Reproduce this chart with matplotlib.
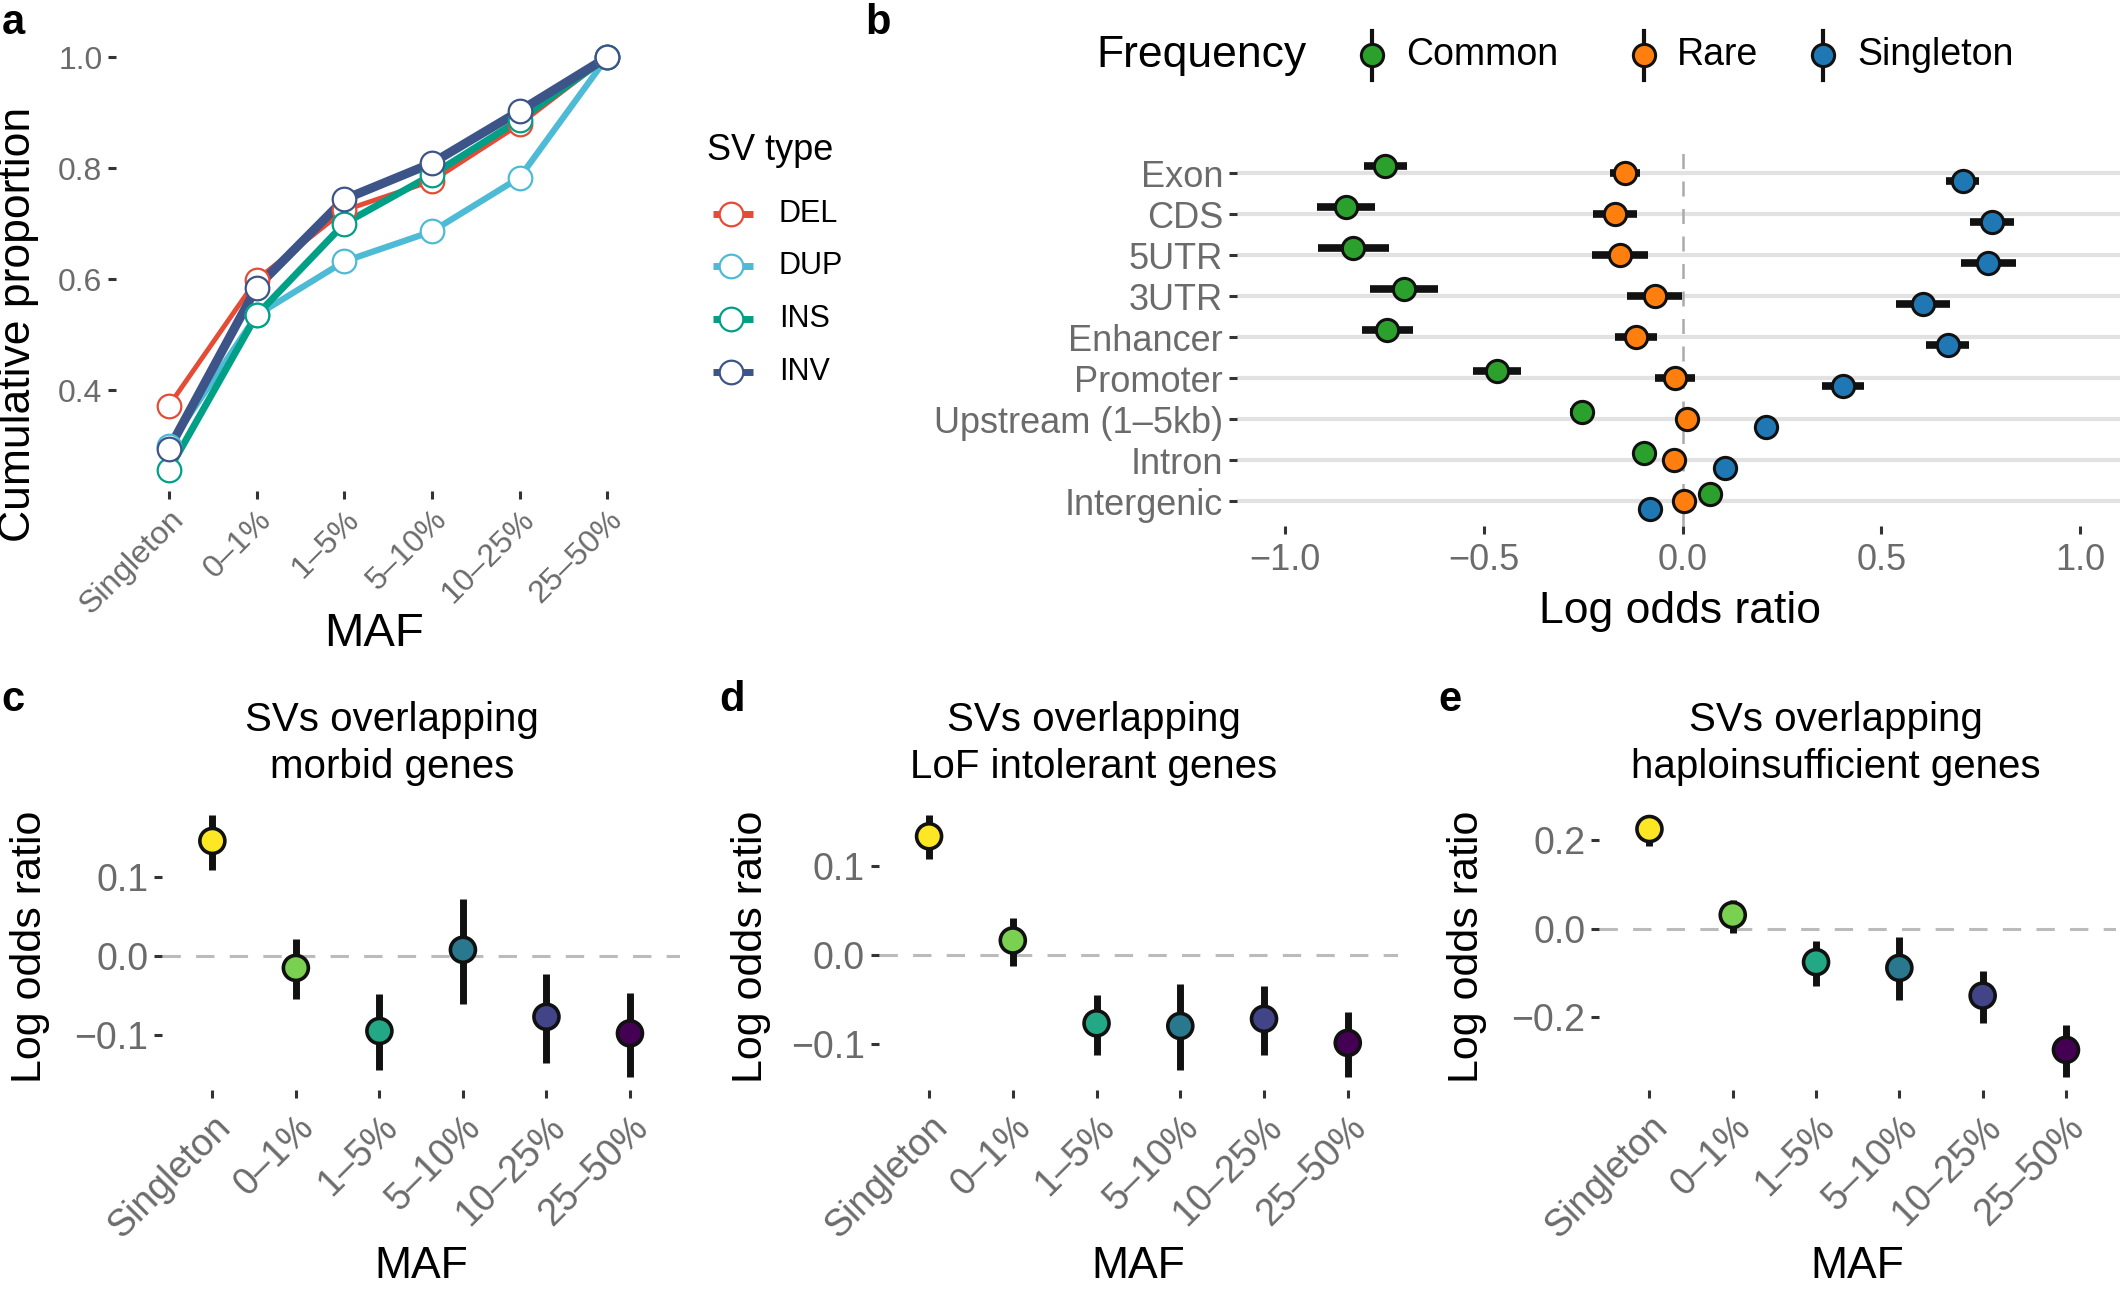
import matplotlib
matplotlib.use('Agg')
import matplotlib.pyplot as plt
from matplotlib.lines import Line2D
import numpy as np

plt.rcParams['font.family'] = ['Liberation Sans', 'DejaVu Sans']
plt.rcParams['axes.unicode_minus'] = True

# ---------------- data ----------------
maf_labels = ['Singleton', '0–1%', '1–5%', '5–10%', '10–25%', '25–50%']

sv_types = ['DEL', 'DUP', 'INS', 'INV']
sv_colors = ['#E64B35', '#4DBBD5', '#00A087', '#3C5488']
cum_del = [0.372, 0.599, 0.724, 0.777, 0.879, 1.0]
cum_dup = [0.300, 0.535, 0.632, 0.686, 0.783, 1.0]
cum_ins = [0.256, 0.535, 0.700, 0.788, 0.887, 1.0]
cum_inv = [0.294, 0.585, 0.744, 0.809, 0.903, 1.0]

regions = ['Exon', 'CDS', '5UTR', '3UTR', 'Enhancer', 'Promoter',
           'Upstream (1–5kb)', 'Intron', 'Intergenic']
freq_groups = ['Common', 'Rare', 'Singleton']
freq_colors = ['#2CA02C', '#FF7F0E', '#1F77B4']
lor_common = [-0.747, -0.846, -0.828, -0.700, -0.742, -0.467, -0.252, -0.097, 0.069]
err_common = [0.053, 0.072, 0.089, 0.085, 0.064, 0.060, 0.030, 0.015, 0.010]
lor_rare = [-0.145, -0.169, -0.158, -0.070, -0.116, -0.018, 0.010, -0.022, 0.004]
err_rare = [0.038, 0.055, 0.070, 0.069, 0.053, 0.050, 0.020, 0.015, 0.010]
lor_single = [0.704, 0.778, 0.769, 0.605, 0.667, 0.404, 0.211, 0.108, -0.081]
err_single = [0.042, 0.055, 0.069, 0.068, 0.054, 0.053, 0.020, 0.015, 0.010]

maf_colors = ['#FDE725', '#7AD151', '#22A884', '#2A788E', '#414487', '#440154']

morbid_est = [0.146, -0.015, -0.095, 0.008, -0.077, -0.098]
morbid_lo = [0.109, -0.055, -0.144, -0.061, -0.136, -0.153]
morbid_hi = [0.179, 0.022, -0.048, 0.072, -0.023, -0.047]

lof_est = [0.133, 0.016, -0.077, -0.080, -0.072, -0.099]
lof_lo = [0.107, -0.013, -0.113, -0.129, -0.113, -0.137]
lof_hi = [0.157, 0.041, -0.045, -0.033, -0.035, -0.064]

hap_est = [0.226, 0.031, -0.076, -0.089, -0.152, -0.275]
hap_lo = [0.187, -0.011, -0.130, -0.161, -0.215, -0.336]
hap_hi = [0.258, 0.066, -0.028, -0.019, -0.095, -0.218]

# ---------------- layout helpers ----------------
W, H = 1568.0, 957.0
fig = plt.figure(figsize=(21.2, 12.94), dpi=100)
fig.patch.set_facecolor('white')

TICKC = '#333333'
LABC = '#6B6B6B'


def add_ax(l, t, r, b):
    return fig.add_axes([l / W, 1 - b / H, (r - l) / W, (b - t) / H])


def style(ax, tsize):
    for s in ax.spines.values():
        s.set_visible(False)
    ax.tick_params(length=6, width=2.2, color=TICKC, labelcolor=LABC,
                   labelsize=tsize, pad=4)
    ax.set_facecolor('none')


def expand(lo, hi, f=0.05):
    r = hi - lo
    return lo - f * r, hi + f * r


def ftext(x, y, s, **kw):
    fig.text(x / W, 1 - y / H, s, **kw)

# ---------------- panel a ----------------
axa = add_ax(86, 27, 488, 363)
style(axa, 23)
xa = np.arange(1, len(maf_labels) + 1)
series_a = [cum_del, cum_dup, cum_ins, cum_inv]
lws = [3.5, 4.5, 5.0, 6.5]
for vals, c, lw in zip(series_a, sv_colors, lws):
    axa.plot(xa, vals, color=c, lw=lw, solid_capstyle='butt', zorder=2)
for vals, c in zip(series_a, sv_colors):
    axa.plot(xa, vals, ls='none', marker='o', ms=17, mfc='white', mec=c,
             mew=1.6, zorder=3)
allv = np.concatenate(series_a)
axa.set_ylim(*expand(allv.min(), allv.max()))
axa.set_xlim(0.4, len(maf_labels) + 0.6)
axa.set_yticks([0.4, 0.6, 0.8, 1.0])
axa.set_yticklabels(['0.4', '0.6', '0.8', '1.0'])
axa.set_xticks(xa)
axa.set_xticklabels(maf_labels, rotation=45, ha='right', rotation_mode='anchor')
axa.set_xlabel('MAF', fontsize=34, color='black')
axa.xaxis.set_label_coords(0.475, -0.315)
axa.xaxis.label.set_va('center')
axa.set_ylabel('Cumulative proportion', fontsize=32, color='black')
axa.yaxis.set_label_coords(-0.179, 0.366)
axa.yaxis.label.set_va('center')

# legend a
ftext(523, 111, 'SV type', fontsize=26, va='center', ha='left')
for i, (lab, c) in enumerate(zip(sv_types, sv_colors)):
    y = 158 + i * 39
    fig.add_artist(Line2D([527 / W, 557 / W], [1 - y / H, 1 - y / H],
                          transform=fig.transFigure, color=c, lw=5,
                          solid_capstyle='butt'))
    fig.add_artist(Line2D([541 / W], [1 - y / H], transform=fig.transFigure,
                          ls='none', marker='o', ms=17, mfc='white', mec=c, mew=1.6))
    ftext(576, y, lab, fontsize=22, va='center', ha='left')

# ---------------- panel b ----------------
axb = add_ax(915, 110, 1568, 389)
style(axb, 26)
yb = np.arange(len(regions))
dodge = [-0.18, 0.0, 0.18]
axb.axvline(0, color='#AAAAAA', lw=1.8, ls=(0, (6, 5)), zorder=1)
for vals, errs, c, d in zip([lor_common, lor_rare, lor_single],
                            [err_common, err_rare, err_single],
                            freq_colors, dodge):
    axb.errorbar(vals, yb + d, xerr=errs, fmt='none', ecolor='#111111',
                 elinewidth=5.5, capsize=0, zorder=3)
    axb.plot(vals, yb + d, ls='none', marker='o', ms=16, mfc=c, mec='#111111',
             mew=2.2, zorder=4)
axb.set_yticks(yb)
axb.set_yticklabels(regions)
axb.yaxis.grid(True, color='#E2E2E2', lw=3)
axb.set_axisbelow(True)
axb.set_ylim(len(regions) - 0.4, -0.6)
axb.set_xlim(-1.12, 1.10)
axb.set_xticks([-1.0, -0.5, 0.0, 0.5, 1.0])
axb.set_xticklabels(['−1.0', '−0.5', '0.0', '0.5', '1.0'])
axb.tick_params(axis='x', pad=6)
axb.set_xlabel('Log odds ratio', fontsize=32, color='black')
axb.xaxis.set_label_coords(0.502, -0.228)
axb.xaxis.label.set_va('center')

# legend b
ftext(811, 41, 'Frequency', fontsize=32, va='center', ha='left')
for xk, xt, lab, c in zip([1015, 1216, 1348], [1040, 1240, 1374], freq_groups, freq_colors):
    fig.add_artist(Line2D([xk / W, xk / W], [1 - 23 / H, 1 - 59 / H],
                          transform=fig.transFigure, color='#111111', lw=3))
    fig.add_artist(Line2D([xk / W], [1 - 41 / H], transform=fig.transFigure,
                          ls='none', marker='o', ms=16, mfc=c, mec='#111111', mew=2.2))
    ftext(xt, 41, lab, fontsize=27, va='center', ha='left')

# ---------------- panels c, d, e ----------------
def lor_panel(l, r, est, lo, hi, yticks, ytl, ylab_x):
    ax = add_ax(l, 593, r, 806)
    style(ax, 27)
    x = np.arange(1, len(maf_labels) + 1)
    ax.axhline(0, color='#BBBBBB', lw=2.2, ls=(0, (6, 5)), zorder=1)
    est = np.array(est)
    lo = np.array(lo)
    hi = np.array(hi)
    ax.errorbar(x, est, yerr=[est - lo, hi - est], fmt='none', ecolor='#111111',
                elinewidth=5, capsize=0, zorder=2)
    ax.scatter(x, est, s=18 ** 2, c=maf_colors, edgecolors='#111111',
               linewidths=2.6, zorder=3)
    ax.set_xlim(0.4, len(maf_labels) + 0.6)
    ax.set_ylim(*expand(lo.min(), hi.max()))
    ax.set_xticks(x)
    ax.set_xticklabels(maf_labels, rotation=45, ha='right', rotation_mode='anchor')
    ax.set_yticks(yticks)
    ax.set_yticklabels(ytl)
    ax.tick_params(axis='x', pad=8)
    ax.set_xlabel('MAF', fontsize=32, color='black')
    ax.xaxis.set_label_coords(0.5, -0.615)
    ax.xaxis.label.set_va('center')
    ax.set_ylabel('Log odds ratio', fontsize=31, color='black')
    ax.yaxis.set_label_coords(ylab_x, 0.498)
    ax.yaxis.label.set_va('center')
    return ax


lor_panel(120, 503, morbid_est, morbid_lo, morbid_hi,
          [-0.1, 0.0, 0.1], ['−0.1', '0.0', '0.1'], -0.256)
lor_panel(650, 1034, lof_est, lof_lo, lof_hi,
          [-0.1, 0.0, 0.1], ['−0.1', '0.0', '0.1'], -0.247)
lor_panel(1183, 1565, hap_est, hap_lo, hap_hi,
          [-0.2, 0.0, 0.2], ['−0.2', '0.0', '0.2'], -0.257)

ftext(290, 550, 'SVs overlapping\nmorbid genes', fontsize=29, ha='center',
      va='center', linespacing=1.3)
ftext(809, 550, 'SVs overlapping\nLoF intolerant genes', fontsize=29, ha='center',
      va='center', linespacing=1.3)
ftext(1358, 550, 'SVs overlapping\nhaploinsufficient genes', fontsize=29, ha='center',
      va='center', linespacing=1.3)

# panel letters
for x, y, s in [(1, 2, 'a'), (640, 2, 'b'), (1, 503, 'c'), (532, 503, 'd'), (1064, 503, 'e')]:
    ftext(x, y, s, fontsize=30, fontweight='bold', va='top', ha='left')

fig.savefig('out.png', dpi=100, facecolor='white')
